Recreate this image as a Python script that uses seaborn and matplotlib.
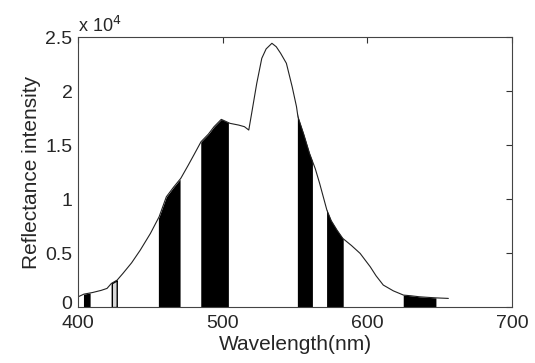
import numpy as np
import pandas as pd
import matplotlib
matplotlib.use('Agg')
import matplotlib.pyplot as plt
from matplotlib import ticker, transforms
import seaborn as sns

# spectrum
wavelength = [400, 404, 410, 416, 420, 423, 427, 431, 437, 443, 450, 456, 461, 466,
              471, 476, 480, 485, 490, 494, 499, 505, 511, 515, 518, 520, 523.5, 527,
              530, 534, 537, 540, 544, 548, 551, 552, 556, 560, 564, 567, 572, 575,
              579, 583, 589, 595, 602, 606, 611, 618, 625, 630, 636, 642, 648, 656]
intensity = [950, 1200, 1350, 1550, 1730, 2190, 2500, 3120, 4100, 5280, 6820, 8360,
             10210, 11100, 11920, 13100, 14075, 15310, 16000, 16700, 17380, 17010,
             16850, 16700, 16390, 17940, 20700, 23030, 23900, 24420, 24100, 23500,
             22570, 20400, 18550, 17620, 16000, 14230, 12800, 11450, 8980, 8000, 7130,
             6360, 5700, 4970, 3730, 2900, 2040, 1500, 1110, 1050, 955, 900, 850, 805]

# black bands (nm)
band_start = [403.7, 455.5, 484.8, 551.6, 571.8, 624.8]
band_end = [408.3, 470.5, 503.9, 562.0, 583.3, 647.4]
# outlined (unfilled) band
open_start = [423.3]
open_end = [426.7]

df = pd.DataFrame({'wl': wavelength, 'val': intensity})

sns.set_style('white')
plt.rcParams['font.family'] = ['Liberation Sans', 'DejaVu Sans']

fig = plt.figure(figsize=(5.35, 3.63), dpi=100)
ax = fig.add_axes([0.146, 0.154, 0.811, 0.744])

for s, e in zip(band_start, band_end):
    xs = np.linspace(s, e, 40)
    ax.fill_between(xs, 0, np.interp(xs, df.wl, df.val), color='black', lw=0)
for s, e in zip(open_start, open_end):
    xs = np.linspace(s, e, 10)
    ax.fill_between(xs, 0, np.interp(xs, df.wl, df.val), facecolor='#d8d8d8',
                    edgecolor='black', lw=1)

sns.lineplot(data=df, x='wl', y='val', ax=ax, color='#222222', lw=0.8)

ax.set_xlim(400, 700)
ax.set_ylim(0, 25000)
ax.set_xticks([400, 500, 600, 700])
ax.set_yticks(np.arange(0, 25001, 5000))
ax.yaxis.set_major_formatter(ticker.FuncFormatter(lambda v, p: f'{v/1e4:g}'))
ax.tick_params(direction='in', top=True, right=True, length=4, width=0.8,
               labelsize=14, color='#333333')
ax.tick_params(axis='x', pad=6)
ax.tick_params(axis='y', pad=4)
for sp in ax.spines.values():
    sp.set_color('#444444')
    sp.set_linewidth(0.8)

# nudge the "0" label up a little so it sits clear of "400"
fig.canvas.draw()
zero_lbl = ax.get_yticklabels()[0]
zero_lbl.set_transform(zero_lbl.get_transform() +
                       transforms.ScaledTranslation(0, 3 / 72, fig.dpi_scale_trans))

ax.set_xlabel('Wavelength(nm)', fontsize=15, labelpad=2)
ax.set_ylabel('Reflectance intensity', fontsize=15, labelpad=3)
ax.text(0.0, 1.005, r'x 10$^{4}$', transform=ax.transAxes, fontsize=13,
        ha='left', va='bottom')

fig.savefig('out.png', dpi=100)
